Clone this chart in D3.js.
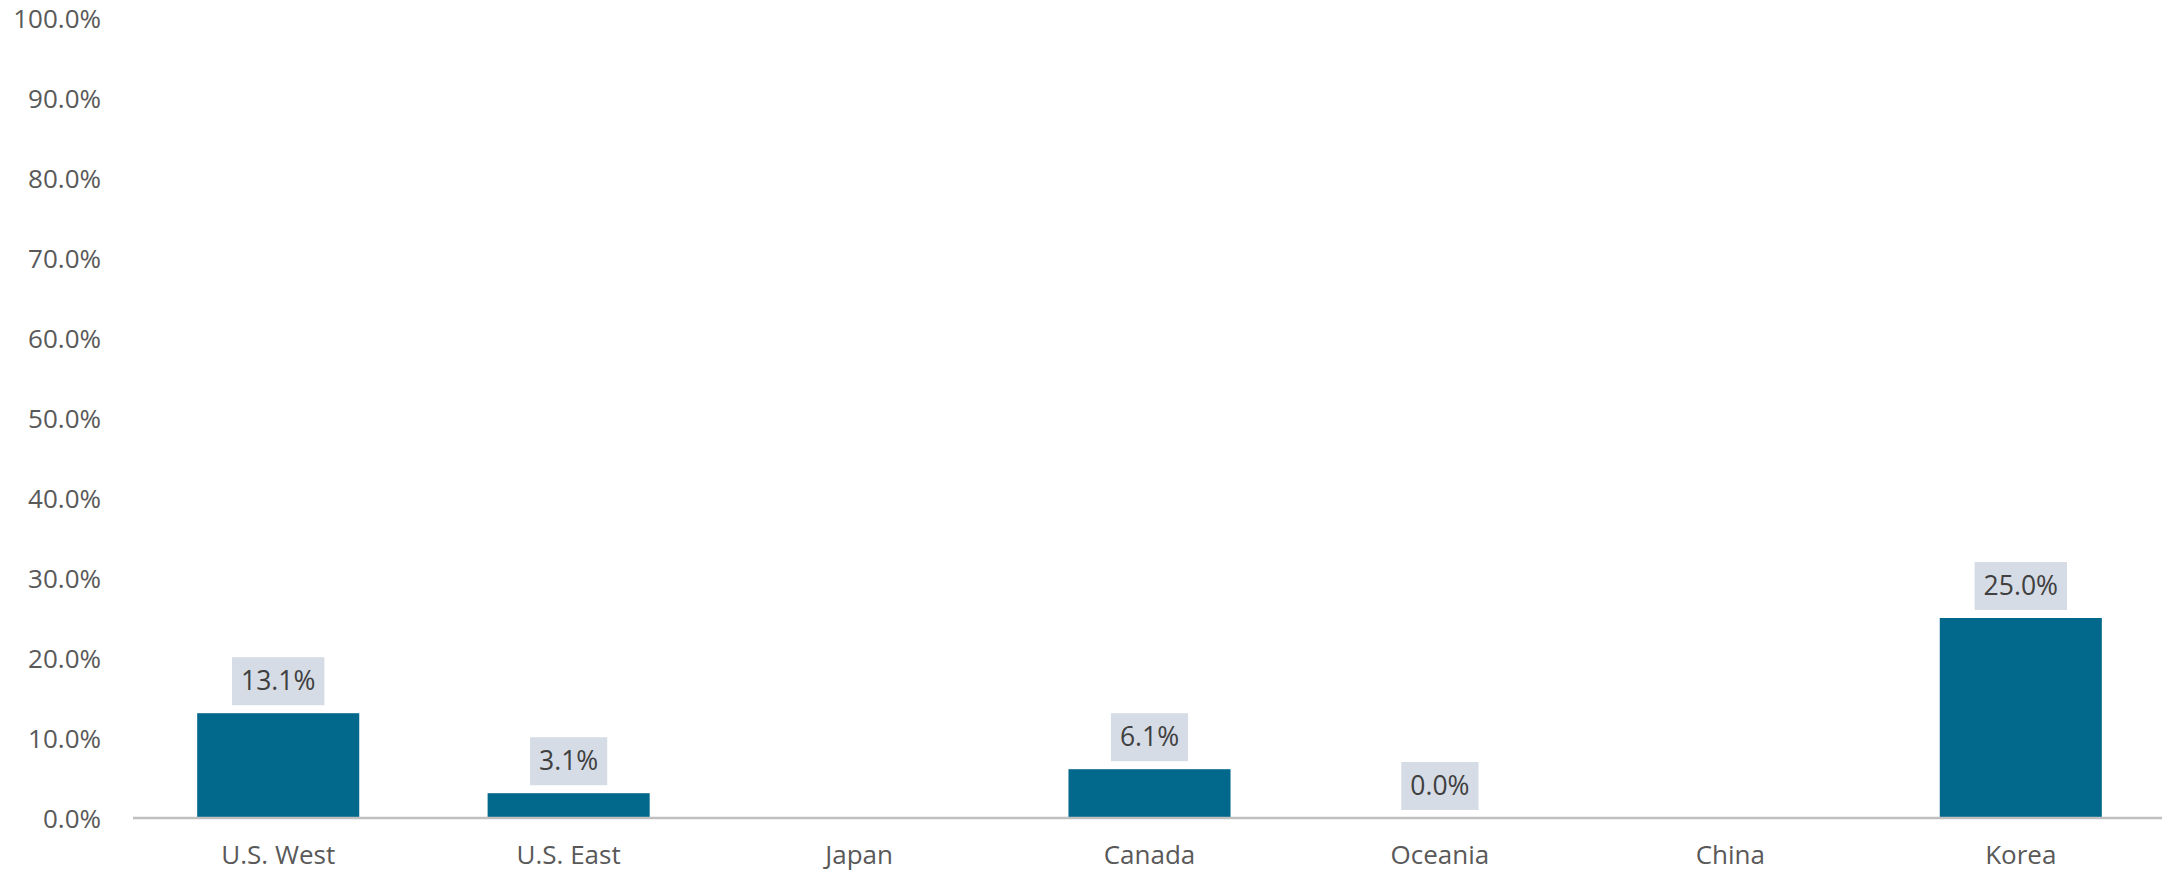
<!DOCTYPE html>
<html><head><meta charset="utf-8">
<script src="https://cdn.jsdelivr.net/npm/d3@7"></script>
<style>html,body{margin:0;padding:0;background:#fff;}svg{display:block;}</style>
</head><body>
<svg id="chart" width="2162" height="875"></svg>
<script>
const categories = ["U.S. West","U.S. East","Japan","Canada","Oceania","China","Korea"];
const values = [13.1, 3.1, null, 6.1, 0.0, null, 25.0];
const yTicks = [0,10,20,30,40,50,60,70,80,90,100];

const svg = d3.select("#chart");
const font = "'Open Sans', 'Noto Sans', sans-serif";
const x = d3.scaleBand().domain(categories).range([133, 2166]).paddingInner(0.442).paddingOuter(0.221);
const y = d3.scaleLinear().domain([0,100]).range([818, 18]);

// y axis labels
const yAxis = d3.axisLeft(y).tickValues(yTicks).tickSize(0).tickPadding(0)
  .tickFormat(d => d.toFixed(1) + "%");
const ya = svg.append("g").attr("transform","translate(101,0)").call(yAxis);
ya.select(".domain").remove();
ya.selectAll("text").attr("font-family",font).attr("font-size",26).attr("fill","#595959").attr("dy","0.35em");

// bars
const data = categories.map((c,i)=>({c, v: values[i]}));
svg.append("g").selectAll("rect").data(data.filter(d=>d.v!==null && d.v>0)).join("rect")
  .attr("x", d=>x(d.c)).attr("width", x.bandwidth())
  .attr("y", d=>y(d.v)).attr("height", d=>y(0)-y(d.v))
  .attr("fill","#02688C");

// x axis
const xAxis = d3.axisBottom(x).tickSize(0).tickPadding(37);
const xa = svg.append("g").attr("transform",`translate(0,${y(0)})`).call(xAxis);
xa.select(".domain").attr("stroke","#BFBFBF").attr("stroke-width",2.6).attr("d","M133,0H2162");
xa.selectAll("text").attr("font-family",font).attr("font-size",26).attr("fill","#595959").attr("dy","0.35em");

// data labels
const lab = svg.append("g").selectAll("g").data(data.filter(d=>d.v!==null)).join("g");
lab.each(function(d){
  const g = d3.select(this);
  const cx = x(d.c) + x.bandwidth()/2;
  const bottom = y(d.v) - 8;
  const t = g.append("text").attr("x",cx).attr("y",bottom-24).attr("dy","0.35em")
    .attr("text-anchor","middle").attr("font-family",font).attr("font-size",26.5)
    .attr("fill","#404040").text(d.v.toFixed(1)+"%");
  const w = t.node().getComputedTextLength();
  g.insert("rect","text").attr("x",cx-w/2-9).attr("width",w+18)
    .attr("y",bottom-48).attr("height",48).attr("fill","#D6DCE5");
});
</script>
</body></html>
